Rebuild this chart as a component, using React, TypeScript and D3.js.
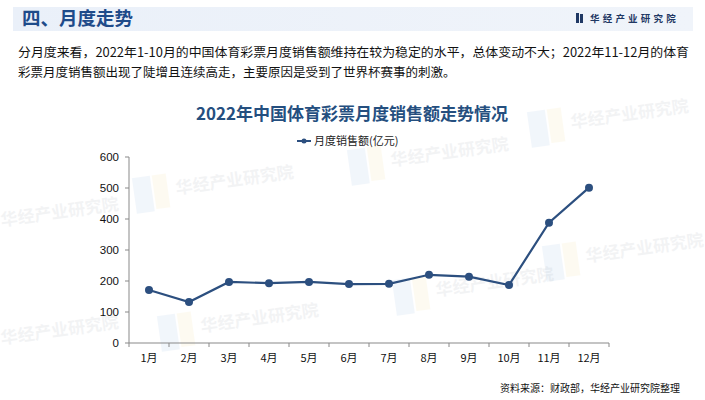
import React from "react";
import * as d3 from "d3";

const months = ["1月","2月","3月","4月","5月","6月","7月","8月","9月","10月","11月","12月"];
const sales = [171, 132, 197, 193, 197, 190, 191, 220, 214, 187, 388, 501];
const yTicks = [0, 100, 200, 300, 400, 500, 600];
const seriesName = "月度销售额(亿元)";
const chartTitle = "2022年中国体育彩票月度销售额走势情况";
const sectionTitle = "四、月度走势";
const brand = "华经产业研究院";
const bodyLines = [
  "分月度来看，2022年1-10月的中国体育彩票月度销售额维持在较为稳定的水平，总体变动不大；2022年11-12月的体育",
  "彩票月度销售额出现了陡增且连续高走，主要原因是受到了世界杯赛事的刺激。",
];
const source = "资料来源：财政部，华经产业研究院整理";

const watermarks = [
  { x: 135, y: 200 },
  { x: 350, y: 172 },
  { x: 545, y: 268 },
  { x: 160, y: 338 },
  { x: 395, y: 302 },
  { x: 530, y: 134 },
  { x: -40, y: 232 },
  { x: -40, y: 350 },
];

export default function App() {
  const W = 705, H = 400;
  const left = 129, right = 609, top = 157, bottom = 343;
  const x = d3.scaleBand<string>().domain(months).range([left, right]);
  const y = d3.scaleLinear().domain([0, 600]).range([bottom, top]);
  const line = d3
    .line<number>()
    .x((_, i) => (x(months[i]) as number) + x.bandwidth() / 2)
    .y((d) => y(d));
  const lineColor = "#2C4F7F";
  const font = "Liberation Sans, Arial, Noto Sans CJK SC, sans-serif";
  const cjk = "Noto Sans CJK SC, sans-serif";
  return (
    <svg width={W} height={H} style={{ position: "absolute", left: 0, top: 0, background: "#fff" }}>
      <defs>
        <linearGradient id="band" x1="0" x2="1" y1="0" y2="0">
          <stop offset="0" stopColor="#EAF0F9" />
          <stop offset="1" stopColor="#F0F4FA" />
        </linearGradient>
      </defs>
      <rect x={0} y={0} width={W} height={H} fill="#fff" />
      {/* watermarks */}
      {watermarks.map((w, i) => (
        <g key={i} transform={`translate(${w.x},${w.y}) rotate(-8)`} opacity={0.09}>
          <rect x={0} y={-22} width={18} height={36} fill="#6FA0D8" />
          <rect x={20} y={-22} width={14} height={34} fill="#F2D36B" />
          <text x={42} y={0} fontFamily={cjk} fontSize={17} fontWeight={700} fill="#7A8594">{brand}</text>
        </g>
      ))}
      {/* header band */}
      <rect x={13} y={7} width={680} height={24} fill="url(#band)" />
      <text x={22} y={25} fontFamily={cjk} fontSize={18.5} fontWeight={700} fill="#1E4B8A">{sectionTitle}</text>
      <g transform="translate(576,13)">
        <rect x={0} y={0} width={3} height={10} fill="#1F3864" />
        <rect x={4} y={1} width={3} height={9} fill="#1F3864" />
      </g>
      <text x={590} y={22} fontFamily={cjk} fontSize={9.5} fontWeight={700} fill="#1F3864" letterSpacing={3.2}>{brand}</text>
      {/* body text */}
      {bodyLines.map((t, i) => (
        <text key={i} x={18} y={57 + i * 20} fontFamily={cjk} fontSize={12.5} fill="#111"
          textLength={i === 0 ? 671 : undefined} lengthAdjust="spacingAndGlyphs">{t}</text>
      ))}
      {/* chart title */}
      <text x={352} y={120} textAnchor="middle" fontFamily={cjk} fontSize={17} fontWeight={700} fill="#254F7F">{chartTitle}</text>
      {/* legend */}
      <line x1={297} x2={311} y1={141} y2={141} stroke={lineColor} strokeWidth={2} />
      <circle cx={304} cy={141} r={2.5} fill={lineColor} />
      <text x={314} y={145} fontFamily={cjk} fontSize={11} fill="#222">{seriesName}</text>
      {/* axes */}
      <line x1={left} x2={left} y1={top} y2={bottom} stroke="#898989" strokeWidth={1} />
      <line x1={left} x2={right} y1={bottom} y2={bottom} stroke="#898989" strokeWidth={1} />
      {yTicks.map((t) => (
        <g key={t}>
          <line x1={left - 4} x2={left} y1={y(t)} y2={y(t)} stroke="#898989" />
          <text x={119} y={y(t) + 4} textAnchor="end" fontFamily={font} fontSize={11.5} fill="#111">{t}</text>
        </g>
      ))}
      {months.map((m, i) => (
        <g key={m}>
          <line x1={(x(m) as number) + x.bandwidth()} x2={(x(m) as number) + x.bandwidth()} y1={bottom} y2={bottom + 4} stroke="#898989" />
          {i === 0 && <line x1={left} x2={left} y1={bottom} y2={bottom + 4} stroke="#898989" />}
          <text x={(x(m) as number) + x.bandwidth() / 2} y={362} textAnchor="middle" fontFamily={cjk} fontSize={11} fill="#111">{m}</text>
        </g>
      ))}
      {/* series */}
      <path d={line(sales) || ""} fill="none" stroke={lineColor} strokeWidth={2.2} />
      {sales.map((v, i) => (
        <circle key={i} cx={(x(months[i]) as number) + x.bandwidth() / 2} cy={y(v)} r={4} fill={lineColor} />
      ))}
      {/* source */}
      <text x={680} y={392} textAnchor="end" fontFamily={cjk} fontSize={10} fill="#111">{source}</text>
    </svg>
  );
}
